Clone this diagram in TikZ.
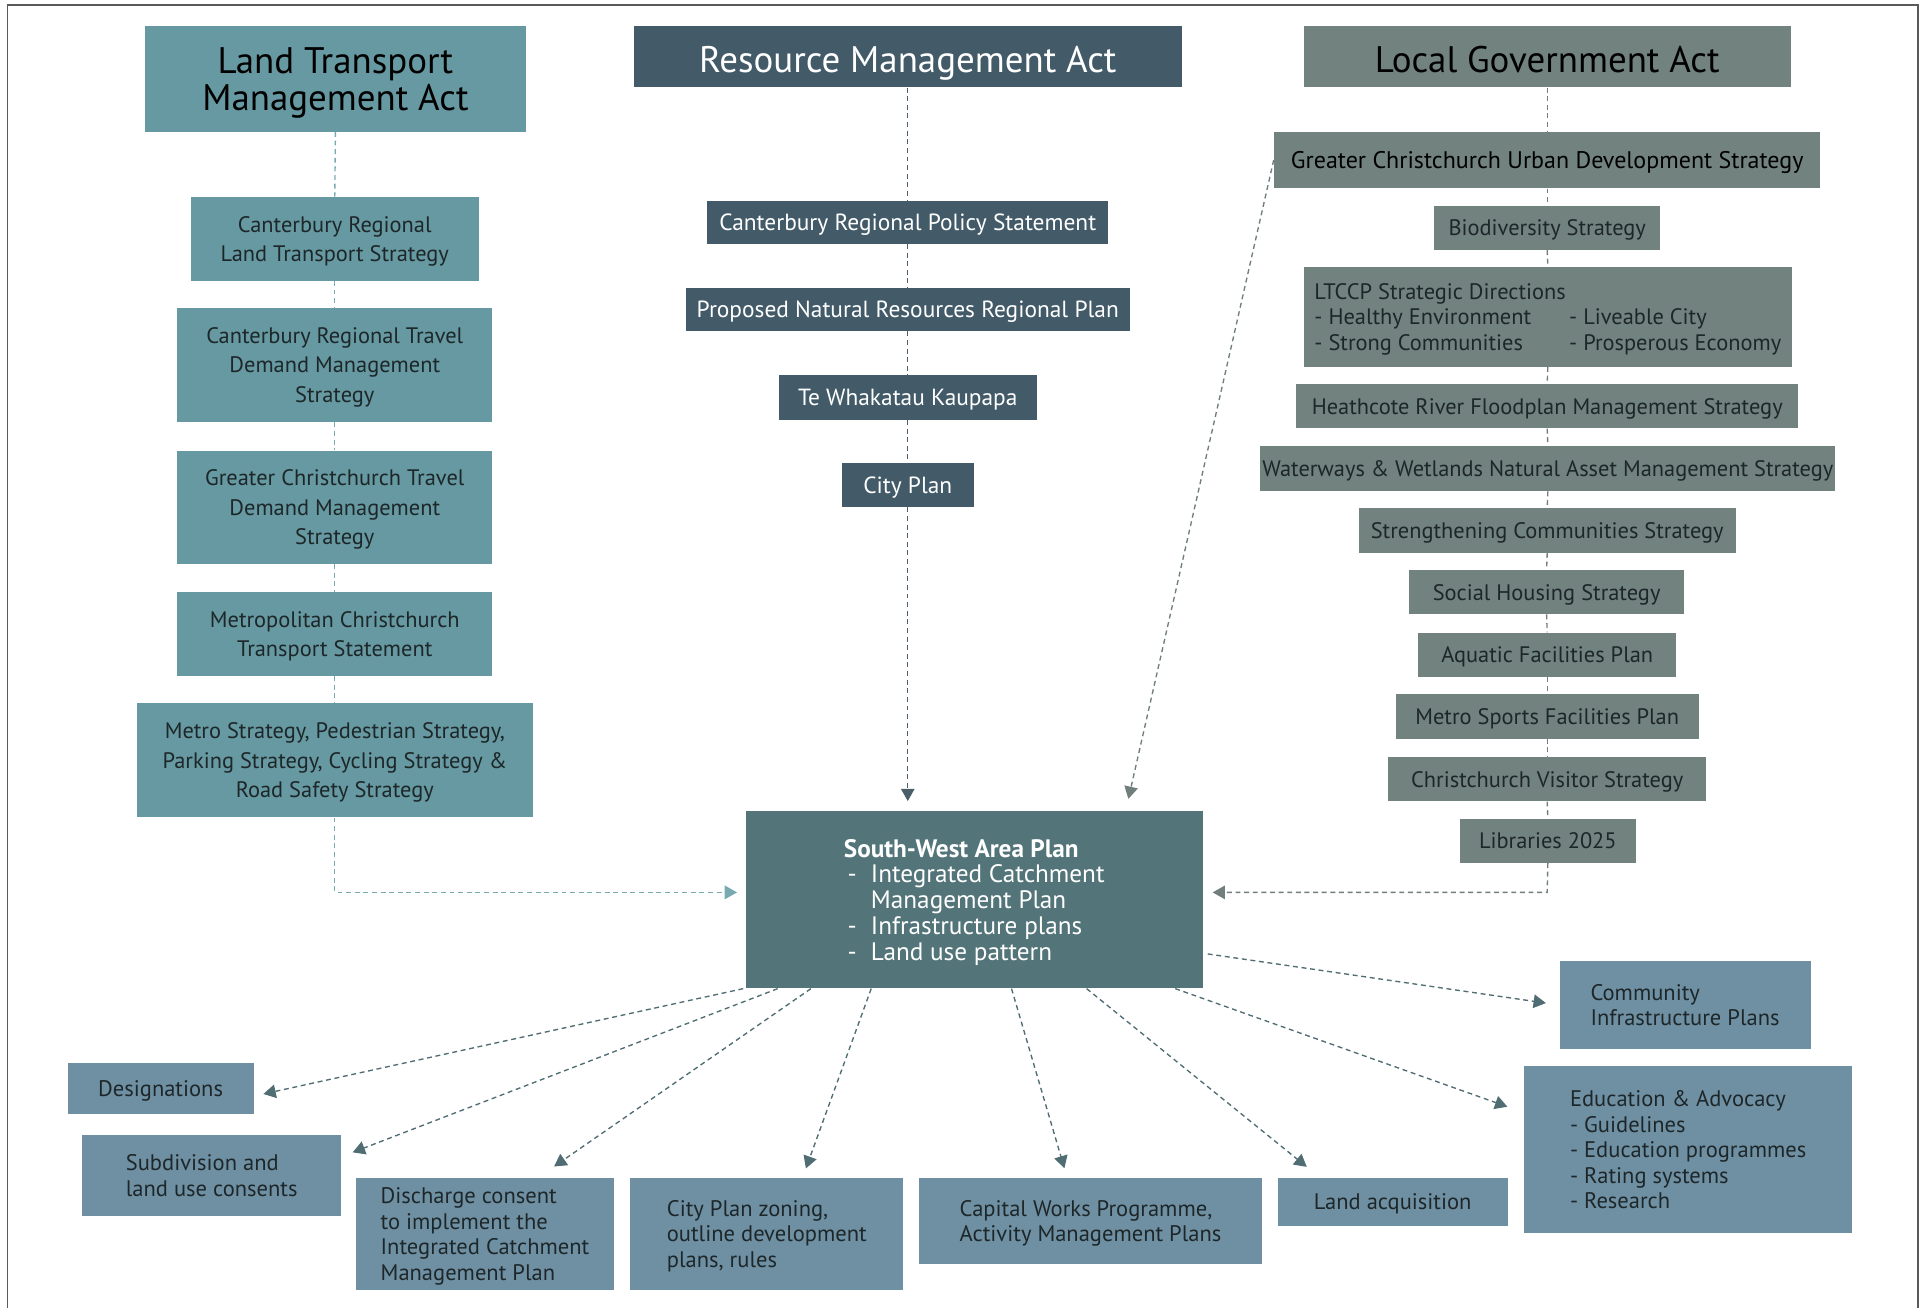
\documentclass[tikz,border=0pt]{standalone}
\usepackage{fontspec}
\setmainfont{PT Sans}
\usetikzlibrary{arrows.meta}

\definecolor{ltmafill}{HTML}{6699A1}
\definecolor{ltmaline}{HTML}{79AAB2}
\definecolor{rmafill}{HTML}{435B68}
\definecolor{rmaline}{HTML}{4B5E69}
\definecolor{lgafill}{HTML}{71827F}
\definecolor{lgaline}{HTML}{707F7C}
\definecolor{swapfill}{HTML}{537579}
\definecolor{swapline}{HTML}{4F6D72}
\definecolor{outfill}{HTML}{6F90A3}
\definecolor{darktext}{HTML}{1D2729}
\definecolor{framecol}{HTML}{5A5A5A}

\tikzset{
  % text height/depth are set so that the capitals, not the descenders,
  % are centred in each box; a multi-line box has its baseline on the
  % last line, so its text height covers the lines above as well
  box/.style={rectangle, inner sep=0pt, align=center,
    text height=13pt, text depth=0pt,
    font=\fontsize{18.2}{24}\selectfont},
  titlebox/.style={box, text height=25pt, font=\fontsize{30}{30}\selectfont},
  ltmabox/.style={box, fill=ltmafill, text=darktext},
  rmabox/.style={box, fill=rmafill, text=white, text height=13.5pt,
    font=\fontsize{19}{24}\selectfont},
  lgabox/.style={box, fill=lgafill, text=darktext,
    font=\fontsize{18.2}{21}\selectfont},
  swapbox/.style={box, fill=swapfill, text=white, align=left,
    font=\fontsize{20.5}{21}\selectfont},
  outbox/.style={box, fill=outfill, text=darktext, align=left,
    font=\fontsize{18.3}{20.7}\selectfont},
  dashlink/.style={line width=1.1pt, dash pattern=on 4pt off 3pt},
  ltmalink/.style={dashlink, draw=ltmaline},
  rmalink/.style={dashlink, draw=rmaline},
  lgalink/.style={dashlink, draw=lgaline},
  swaplink/.style={dashlink, draw=swapline},
  arrowtip/.style={-{Triangle[length=10pt,width=11pt]}},
}

\begin{document}
\begin{tikzpicture}[x=1pt,y=-1pt]
\useasboundingbox (0,0) rectangle (1568,1063);

% page frame
\draw[framecol, line width=1.3pt] (6,1063) -- (6,4) -- (1558,4) -- (1558,1063);

% ---------- Land Transport Management Act column ----------
\node[titlebox, fill=ltmafill, text=black, text height=51pt,
      minimum width=309pt, minimum height=86pt]
  (ltma) at (272.5,64) {Land Transport\\Management Act};
\node[ltmabox, text height=37pt, minimum width=234pt, minimum height=68pt]
  (crlts) at (272,194) {Canterbury Regional\\Land Transport Strategy};
\node[ltmabox, text height=61pt, minimum width=256pt, minimum height=93pt]
  (crtdm) at (272,296.5) {Canterbury Regional Travel\\Demand Management\\Strategy};
\node[ltmabox, text height=61pt, minimum width=256pt, minimum height=92pt]
  (gctdm) at (272,412) {Greater Christchurch Travel\\Demand Management\\Strategy};
\node[ltmabox, text height=37pt, minimum width=256pt, minimum height=68pt]
  (mcts) at (272,515) {Metropolitan Christchurch\\Transport Statement};
\node[ltmabox, text height=61pt, minimum width=322pt, minimum height=93pt]
  (metro) at (272,617.5) {Metro Strategy, Pedestrian Strategy,\\Parking Strategy, Cycling Strategy \&\\Road Safety Strategy};

% ---------- Resource Management Act column ----------
\node[titlebox, fill=rmafill, text=white, minimum width=445pt, minimum height=50pt]
  (rma) at (737.5,46) {Resource Management Act};
\node[rmabox, minimum width=326pt, minimum height=35pt]
  (crps) at (737.5,180.5) {Canterbury Regional Policy Statement};
\node[rmabox, minimum width=361pt, minimum height=35pt]
  (pnrrp) at (737.5,251.5) {Proposed Natural Resources Regional Plan};
\node[rmabox, minimum width=210pt, minimum height=36pt]
  (twk) at (737.5,323) {Te Whakatau Kaupapa};
\node[rmabox, minimum width=107pt, minimum height=36pt]
  (cplan) at (737.5,394) {City Plan};

% ---------- Local Government Act column ----------
\node[titlebox, fill=lgafill, text=black, minimum width=396pt, minimum height=50pt]
  (lga) at (1257,46) {Local Government Act};
\node[lgabox, text=black, text height=14pt, font=\fontsize{19.5}{21}\selectfont,
      minimum width=444pt, minimum height=46pt]
  (gcuds) at (1257,130) {Greater Christchurch Urban Development Strategy};
\node[lgabox, minimum width=184pt, minimum height=36pt]
  (bio) at (1257,185) {Biodiversity Strategy};
\node[lgabox, align=left, text height=55pt, minimum width=397pt, minimum height=81pt]
  (ltccp) at (1257.5,257.5) {LTCCP Strategic Directions\\
    \makebox[207pt][l]{- Healthy Environment}- Liveable City\\
    \makebox[207pt][l]{- Strong Communities}- Prosperous Economy};
\node[lgabox, minimum width=408pt, minimum height=36pt]
  (heath) at (1257,330) {Heathcote River Floodplan Management Strategy};
\node[lgabox, minimum width=467pt, minimum height=37pt]
  (water) at (1257.5,380.5) {Waterways \& Wetlands Natural Asset Management Strategy};
\node[lgabox, minimum width=306pt, minimum height=36pt]
  (streng) at (1257,431) {Strengthening Communities Strategy};
\node[lgabox, minimum width=223pt, minimum height=36pt]
  (social) at (1256.5,481) {Social Housing Strategy};
\node[lgabox, minimum width=210pt, minimum height=36pt]
  (aquatic) at (1257,532) {Aquatic Facilities Plan};
\node[lgabox, minimum width=246pt, minimum height=36pt]
  (sports) at (1257,582) {Metro Sports Facilities Plan};
\node[lgabox, minimum width=258pt, minimum height=36pt]
  (visitor) at (1257,633) {Christchurch Visitor Strategy};
\node[lgabox, minimum width=143pt, minimum height=36pt]
  (libs) at (1257.5,683) {Libraries 2025};

% ---------- South-West Area Plan ----------
\node[swapbox, text height=98.5pt, minimum width=371pt, minimum height=144pt]
  (swap) at (791.5,731) {\textbf{South-West Area Plan}\\
    \makebox[22pt][l]{\hspace{3pt}-}Integrated Catchment\\
    \hspace*{22pt}Management Plan\\
    \makebox[22pt][l]{\hspace{3pt}-}Infrastructure plans\\
    \makebox[22pt][l]{\hspace{3pt}-}Land use pattern};

% ---------- outcomes ----------
\node[outbox, minimum width=151pt, minimum height=41pt]
  (desig) at (130.5,884.5) {Designations};
\node[outbox, text height=33.7pt, minimum width=210pt, minimum height=66pt]
  (subdiv) at (172,955) {Subdivision and\\land use consents};
\node[outbox, text height=75.1pt, minimum width=210pt, minimum height=91pt]
  (disch) at (394,1002.5) {Discharge consent\\to implement the\\Integrated Catchment\\Management Plan};
\node[outbox, text height=54.4pt, minimum width=222pt, minimum height=91pt]
  (cpz) at (623,1002.5) {City Plan zoning,\\outline development\\plans, rules};
\node[outbox, text height=33.7pt, minimum width=278pt, minimum height=70pt]
  (capw) at (886,992) {Capital Works Programme,\\Activity Management Plans};
\node[outbox, minimum width=187pt, minimum height=39pt]
  (landacq) at (1131.5,976.5) {Land acquisition};
\node[outbox, text height=33.7pt, minimum width=204pt, minimum height=71pt]
  (comm) at (1369,816.5) {Community\\Infrastructure Plans};
\node[outbox, text height=95.8pt, minimum width=267pt, minimum height=136pt]
  (edu) at (1371.5,934) {Education \& Advocacy\\- Guidelines\\- Education programmes\\- Rating systems\\- Research};

% ---------- column connectors ----------
\foreach \a/\b in {ltma/crlts, crlts/crtdm, crtdm/gctdm, gctdm/mcts, mcts/metro}
  \draw[ltmalink] (\a.south) -- (\b.north);
\foreach \a/\b in {rma/crps, crps/pnrrp, pnrrp/twk, twk/cplan}
  \draw[rmalink] (\a.south) -- (\b.north);
\foreach \a/\b in {lga/gcuds, gcuds/bio, bio/ltccp, ltccp/heath, heath/water,
                   water/streng, streng/social, social/aquatic, aquatic/sports,
                   sports/visitor, visitor/libs}
  \draw[lgalink] (\a.south) -- (\b.north);

% ---------- into the area plan ----------
\coordinate (ltmaturn) at (272,725);
\coordinate (lgaturn) at (1257,725);
\draw[ltmalink, arrowtip, shorten >=7pt] (metro.south) -- (ltmaturn) -- (ltmaturn -| swap.west);
\draw[rmalink, arrowtip, shorten >=8pt] (cplan.south) -- (cplan.south |- swap.north);
\draw[lgalink, arrowtip, shorten >=8pt] (libs.south) -- (lgaturn) -- (lgaturn -| swap.east);
\draw[lgalink, arrowtip, shorten >=10pt] (gcuds.west) -- ([xshift=123pt]swap.north);

% ---------- out of the area plan ----------
\draw[swaplink, arrowtip, shorten >=8pt]
  ([xshift=-2pt]swap.south west) -- ([yshift=-6pt]desig.east);
\draw[swaplink, arrowtip, shorten >=10pt]
  ([xshift=26pt]swap.south west) -- ([yshift=-18pt]subdiv.north east);
\draw[swaplink, arrowtip, shorten >=16pt]
  ([xshift=53pt]swap.south west) -- ([xshift=43pt]disch.north);
\draw[swaplink, arrowtip, shorten >=8pt]
  ([xshift=102pt]swap.south west) -- ([xshift=29pt]cpz.north);
\draw[swaplink, arrowtip, shorten >=8pt]
  ([xshift=216pt]swap.south west) -- ([xshift=-19pt]capw.north);
\draw[swaplink, arrowtip, shorten >=14pt]
  ([xshift=277pt]swap.south west) -- ([xshift=-59pt]landacq.north);
\draw[swaplink, arrowtip, shorten >=14pt]
  ([xshift=349pt]swap.south west) -- ([yshift=-38pt]edu.north west);
\draw[swaplink, arrowtip, shorten >=11pt]
  ([xshift=4pt,yshift=-44pt]swap.east) -- (comm.west);
\end{tikzpicture}
\end{document}
